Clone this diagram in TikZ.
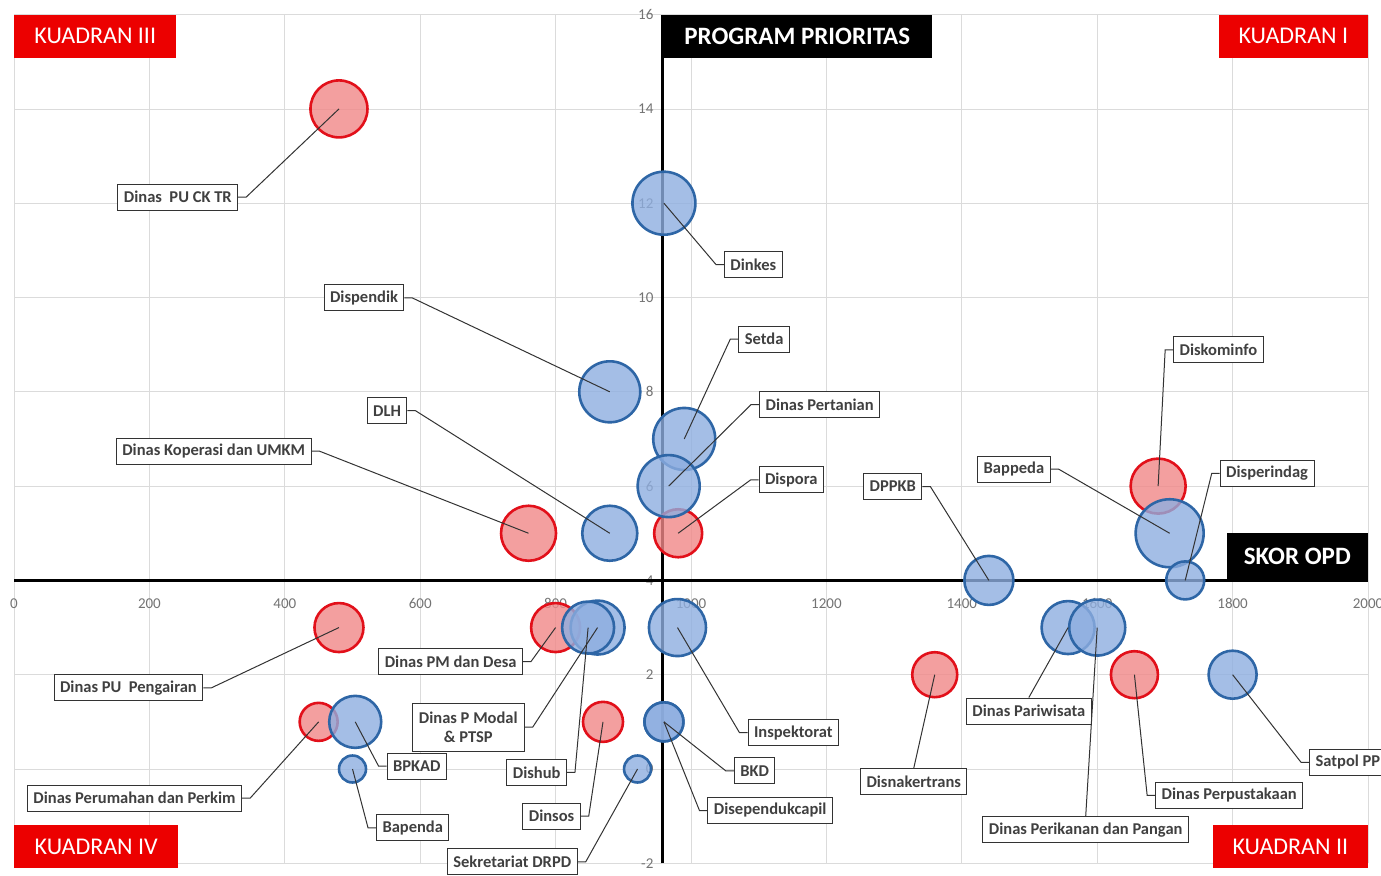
\documentclass[tikz,border=0pt]{standalone}
\usepackage{fontspec}
\setmainfont{Carlito}
\definecolor{bubred}{RGB}{241,136,136}
\definecolor{bubredline}{RGB}{226,16,26}
\definecolor{bubblue}{RGB}{142,174,224}
\definecolor{bubblueline}{RGB}{46,102,166}
\definecolor{kuadred}{RGB}{236,0,0}
\tikzset{
  gridline/.style={draw=black!14, line width=0.8pt},
  axisline/.style={draw=black, line width=2.6pt},
  ticklbl/.style={text=black!55, font=\fontsize{15}{17}\selectfont, inner sep=1pt},
  redbub/.style={circle, draw=bubredline, line width=2.6pt, fill=bubred, fill opacity=0.8, inner sep=0pt},
  bluebub/.style={circle, draw=bubblueline, line width=2.6pt, fill=bubblue, fill opacity=0.8, inner sep=0pt},
  lbl/.style={draw=black!80, fill=white, line width=1pt, text=black!75,
    font=\bfseries\fontsize{16.5}{19}\selectfont, inner xsep=6pt, inner ysep=2pt, minimum height=26pt},
  leader/.style={draw=black!80, line width=1pt},
  blackbox/.style={fill=black, text=white, font=\bfseries\fontsize{25}{28}\selectfont, inner sep=0pt},
  kuadran/.style={fill=kuadred, text=white, font=\fontsize{24}{28}\selectfont, inner sep=0pt, minimum height=43pt}
}
\begin{document}
\begin{tikzpicture}[x=0.677pt, y=47.15pt]
\useasboundingbox (-20.7,-2.269) rectangle (2019.2,16.31);
\fill[white] (-20.7,-2.269) rectangle (2019.2,16.31);

% grid
\foreach \x in {0,200,...,2000} {
  \draw[gridline] (\x,-2) -- (\x,16);
  \node[ticklbl] at ([yshift=-23pt]\x,4) {\x};
}
\foreach \y in {-2,0,...,16} {
  \draw[gridline] (0,\y) -- (2000,\y);
  \node[ticklbl, anchor=east] at ([xshift=-8pt]958,\y) {\y};
}

% axes
\draw[axisline] (0,4) -- (2000,4);
\draw[axisline] (958,-2) -- (958,16);

% bubbles
\foreach \n/\x/\y/\d in {pucktr/480/14/57, koperasi/760/5/55, dispora/981/5/48,
    diskominfo/1690/6/55, pupengairan/480/3/49, perkim/450/1/38, pmdesa/800/3/49,
    dinsos/870/1/40, disnaker/1360/2/45, perpus/1655/2/47}
  \node[redbub, minimum size=\d pt] (\n) at (\x,\y) {};
\foreach \n/\x/\y/\d in {dinkes/960/12/63, dispendik/880/8/61, setda/990/7/62,
    pertanian/967/6/62, dlh/880/5/55, dppkb/1440/4/49, bappeda/1707/5/68,
    disperindag/1730/4/38, bpkad/504/1/52, bapenda/500/0/27, ptsp/862/3/54,
    dishub/848/3/52, inspektorat/980/3/57, bkd/960/1/39, dukcapil/960/1/39,
    drpd/921/0/27, pariwisata/1557/3/53, perikanan/1600/3/56, satpol/1800/2/48}
  \node[bluebub, minimum size=\d pt] (\n) at (\x,\y) {};

% labels
\node[lbl] (lpucktr) at (242,12.13) {Dinas\ \ PU CK TR};
\node[lbl] (ldinkes) at (1092,10.70) {Dinkes};
\node[lbl] (ldispendik) at (517,9.99) {Dispendik};
\node[lbl] (ldlh) at (551,7.60) {DLH};
\node[lbl] (lkoperasi) at (295,6.74) {Dinas Koperasi dan UMKM};
\node[lbl] (lsetda) at (1108,9.12) {Setda};
\node[lbl] (lpertanian) at (1190,7.73) {Dinas Pertanian};
\node[lbl] (ldispora) at (1148,6.13) {Dispora};
\node[lbl] (ldppkb) at (1298,5.99) {DPPKB};
\node[lbl] (lbappeda) at (1477,6.36) {Bappeda};
\node[lbl] (ldiskominfo) at (1779,8.89) {Diskominfo};
\node[lbl] (ldisperindag) at (1851,6.27) {Disperindag};
\node[lbl] (lpupengairan) at (169,1.72) {Dinas PU\ \ Pengairan};
\node[lbl] (lperkim) at (178,-0.62) {Dinas Perumahan dan Perkim};
\node[lbl] (lbpkad) at (595,0.06) {BPKAD};
\node[lbl] (lbapenda) at (589,-1.25) {Bapenda};
\node[lbl] (lpmdesa) at (645,2.28) {Dinas PM dan Desa};
\node[lbl, align=center, minimum height=48pt, minimum width=112pt] (lptsp) at (671,0.89) {Dinas P Modal\\\& PTSP};
\node[lbl] (ldishub) at (772,-0.07) {Dishub};
\node[lbl] (ldinsos) at (794,-1.00) {Dinsos};
\node[lbl] (ldrpd) at (736,-1.97) {Sekretariat DRPD};
\node[lbl] (linspektorat) at (1151,0.77) {Inspektorat};
\node[lbl] (lbkd) at (1094,-0.04) {BKD};
\node[lbl] (ldukcapil) at (1117,-0.88) {Disependukcapil};
\node[lbl] (ldisnaker) at (1329,-0.27) {Disnakertrans};
\node[lbl] (lpariwisata) at (1499,1.23) {Dinas Pariwisata};
\node[lbl] (lperikanan) at (1583,-1.29) {Dinas Perikanan dan Pangan};
\node[lbl] (lperpus) at (1795,-0.56) {Dinas Perpustakaan};
\node[lbl, anchor=west] (lsatpol) at (1913,0.14) {Satpol PP};

% leader lines
\foreach \n in {pucktr, dispendik, dlh, koperasi, dppkb, bappeda, pupengairan,
    perkim, pmdesa, ptsp, dishub, dinsos, drpd}
  \draw[leader] (l\n.east) -- ++(8pt,0) -- (\n.center);
\foreach \n in {dinkes, setda, pertanian, dispora, diskominfo, disperindag, bpkad,
    bapenda, inspektorat, bkd, dukcapil, perpus, satpol}
  \draw[leader] (l\n.west) -- ++(-8pt,0) -- (\n.center);
\foreach \n in {disnaker, pariwisata, perikanan}
  \draw[leader] (l\n.north) -- (\n.center);

% titles
\node[blackbox, anchor=north west, minimum width=269pt, minimum height=43pt] (prioritas) at (958,16) {PROGRAM PRIORITAS};
\node[blackbox, anchor=south east, minimum width=141pt, minimum height=47pt] (skor) at (2000,4) {SKOR OPD};
\node[kuadran, anchor=north west, minimum width=162pt] (k3) at (0,16) {KUADRAN III};
\node[kuadran, anchor=north east, minimum width=149pt] (k1) at (2000,16) {KUADRAN I};
\node[kuadran, anchor=north west, minimum width=164pt] (k4) at (0,-1.19) {KUADRAN IV};
\node[kuadran, anchor=north east, minimum width=155pt] (k2) at (2000,-1.19) {KUADRAN II};
\end{tikzpicture}
\end{document}
